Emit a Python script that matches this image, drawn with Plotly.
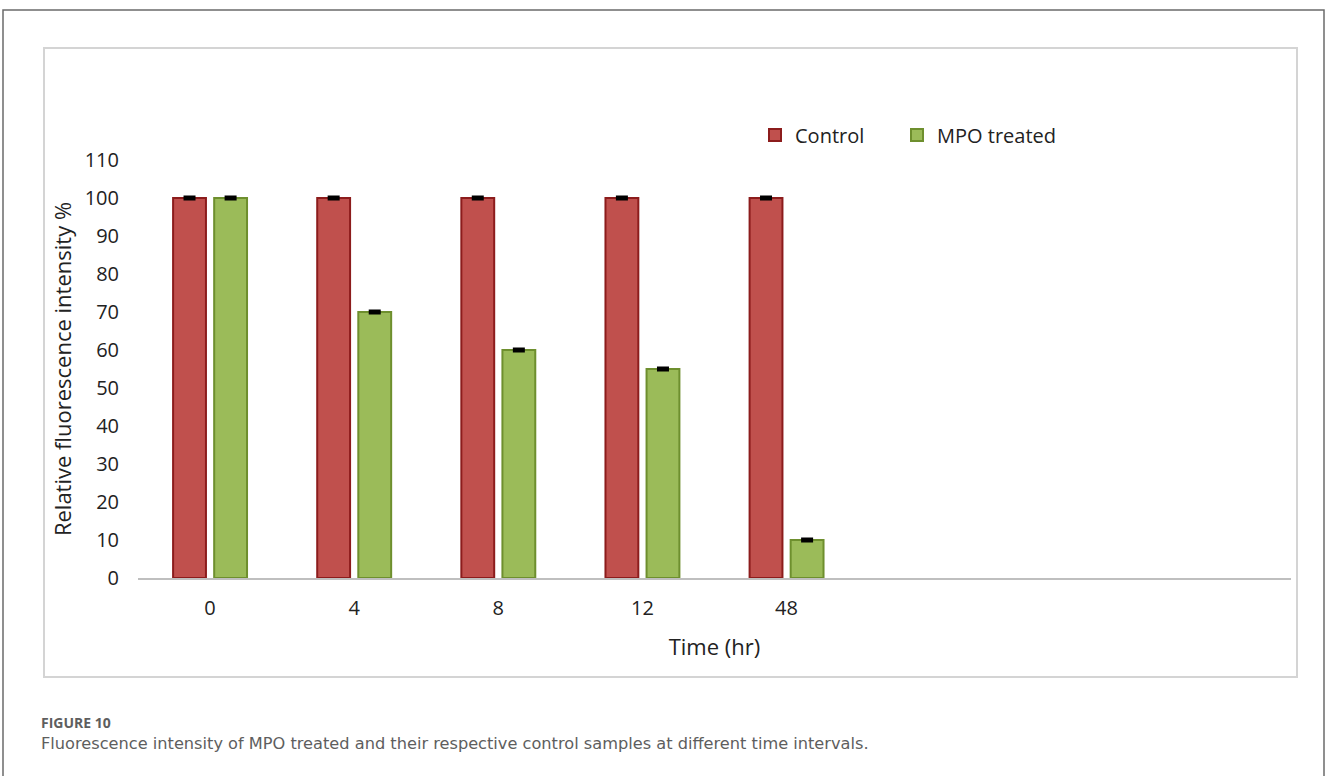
import plotly.graph_objects as go

# ---- data ----
time_labels = ["0", "4", "8", "12", "48"]
control_values = [100, 100, 100, 100, 100]
mpo_values = [100, 70, 60, 55, 10]
control_err = [0.3, 0.3, 0.3, 0.3, 0.3]
mpo_err = [0.3, 0.3, 0.3, 0.3, 0.3]
y_ticks = [0, 10, 20, 30, 40, 50, 60, 70, 80, 90, 100, 110]

W, H = 1328, 776
L, R, T, B = 138, 1291, 160, 578  # plot area in px


def px(x):
    return (x - L) / (R - L)


def py(y):
    return (B - y) / (B - T)


FONT = "Open Sans"
TXT = "#222222"

fig = go.Figure()
fig.add_trace(go.Bar(
    name="Control", x=time_labels, y=control_values, legend="legend",
    marker=dict(color="#C0504D", line=dict(color="#8C1C1C", width=2)),
    error_y=dict(type="data", array=control_err, color="black", thickness=2.5, width=6),
))
fig.add_trace(go.Bar(
    name="MPO treated", x=time_labels, y=mpo_values, legend="legend2",
    marker=dict(color="#9BBB59", line=dict(color="#6E8F2E", width=2)),
    error_y=dict(type="data", array=mpo_err, color="black", thickness=2.5, width=6),
))

shapes = [
    # outer frame (top, left, right)
    dict(type="path", xref="paper", yref="paper",
         path=f"M {px(3)} {py(790)} L {px(3)} {py(10)} L {px(1324)} {py(10)} L {px(1324)} {py(790)}",
         line=dict(color="#6b6b6b", width=1.5)),
    # inner chart box
    dict(type="rect", xref="paper", yref="paper",
         x0=px(44), x1=px(1297), y0=py(677), y1=py(48),
         line=dict(color="#d4d4d4", width=2)),
]

annotations = [
    dict(text="<b>FIGURE 10</b>", xref="paper", yref="paper", x=px(39), y=py(722),
         xanchor="left", yanchor="middle", showarrow=False,
         font=dict(family="Open Sans", size=14, color="#5e5e5e")),
    dict(text="Fluorescence intensity of MPO treated and their respective control samples at different time intervals.",
         xref="paper", yref="paper", x=px(39), y=py(743),
         xanchor="left", yanchor="middle", showarrow=False,
         font=dict(family="DejaVu Sans", size=16.2, color="#5e5e5e")),
]

legend_common = dict(orientation="h", yanchor="middle", xanchor="left",
                     font=dict(family=FONT, size=20, color=TXT),
                     bgcolor="rgba(0,0,0,0)")

fig.update_layout(
    width=W, height=H,
    margin=dict(l=L, r=W - R, t=T, b=H - B, pad=0),
    paper_bgcolor="white", plot_bgcolor="white",
    font=dict(family=FONT, size=20, color=TXT),
    barmode="group", bargap=0.43, bargroupgap=0.2,
    showlegend=True,
    legend=dict(x=px(755), y=py(135), **legend_common),
    legend2=dict(x=px(897), y=py(135), **legend_common),
    xaxis=dict(
        type="category", categoryorder="array", categoryarray=time_labels,
        range=[-0.5, 7.5], showgrid=False, zeroline=False,
        showline=True, linecolor="#bfbfbf", linewidth=1.5,
        ticks="", ticklabelstandoff=11,
        tickfont=dict(family=FONT, size=20, color=TXT),
        title=dict(text="Time (hr)", standoff=20, font=dict(family=FONT, size=22, color=TXT)),
    ),
    yaxis=dict(
        range=[0, 110], tickvals=y_ticks, showgrid=False, zeroline=False,
        showline=False, ticks="", ticklabelstandoff=18,
        tickfont=dict(family=FONT, size=20, color=TXT),
        title=dict(text="Relative fluorescence intensity %", standoff=6,
                   font=dict(family=FONT, size=22, color=TXT)),
    ),
    shapes=shapes,
    annotations=annotations,
)

fig.write_html("out.html", config={"displayModeBar": False},
               post_script="document.body.style.margin='0px';")
